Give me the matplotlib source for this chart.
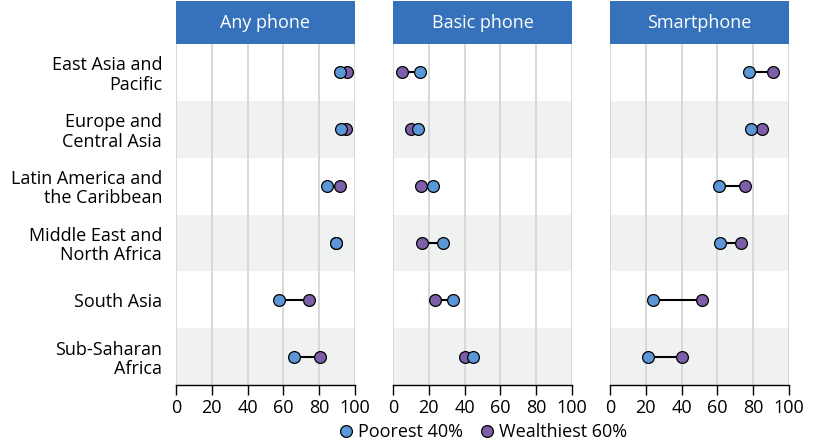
import matplotlib
matplotlib.use("Agg")
import matplotlib.pyplot as plt
from matplotlib.patches import Rectangle
from matplotlib.lines import Line2D

plt.rcParams['font.family'] = ['Open Sans', 'DejaVu Sans']

regions = ["East Asia and\nPacific", "Europe and\nCentral Asia",
           "Latin America and\nthe Caribbean", "Middle East and\nNorth Africa",
           "South Asia", "Sub-Saharan\nAfrica"]
panels = ["Any phone", "Basic phone", "Smartphone"]

poorest = {
    "Any phone": [91.8, 92.2, 84.3, 89.2, 57.5, 66.0],
    "Basic phone": [15.1, 14.0, 22.2, 28.0, 33.6, 44.6],
    "Smartphone": [77.5, 78.5, 60.9, 61.6, 24.2, 21.3],
}
wealthiest = {
    "Any phone": [95.5, 94.8, 91.4, 89.2, 74.4, 80.2],
    "Basic phone": [4.9, 9.9, 15.5, 16.4, 23.3, 40.1],
    "Smartphone": [91.2, 85.0, 75.5, 73.4, 51.5, 40.3],
}
ticks = [0, 20, 40, 60, 80, 100]

blue = "#5b96d6"
purple = "#7d5ea8"
header_blue = "#3672bb"
band = "#f0f2f1"

W, H = 826, 447
fig = plt.figure(figsize=(W / 100, H / 100), dpi=100)

lefts = [176, 393, 610]
pw = 179
top, bottom = 44, 385
head_top = 1

for i, name in enumerate(panels):
    ax = fig.add_axes([lefts[i] / W, (H - bottom) / H, pw / W, (bottom - top) / H])
    ax.set_xlim(0, 100)
    ax.set_ylim(len(regions) - 0.5, -0.5)
    for r in range(len(regions)):
        if r % 2 == 1:
            ax.axhspan(r - 0.5, r + 0.5, color=band, zorder=0, lw=0)
    for t in ticks:
        ax.axvline(t, color="#d6d6d6", lw=1.3, zorder=1)
    for r in range(len(regions)):
        p, w = poorest[name][r], wealthiest[name][r]
        ax.plot([p, w], [r, r], color="black", lw=1.5, zorder=2)
        ax.plot(w, r, "o", ms=8.5, mfc=purple, mec="black", mew=0.9, zorder=3)
        ax.plot(p, r, "o", ms=8.5, mfc=blue, mec="black", mew=0.9, zorder=4)
    for s in ["top", "right", "left"]:
        ax.spines[s].set_visible(False)
    ax.spines["bottom"].set_color("black")
    ax.spines["bottom"].set_linewidth(1.0)
    ax.set_xticks(ticks)
    ax.tick_params(axis="x", length=7, width=1, color="black", labelsize=13, pad=3)
    ax.set_yticks(range(len(regions)))
    if i == 0:
        ax.set_yticklabels(regions, fontsize=13, ha="right", linespacing=1.1)
        ax.tick_params(axis="y", length=0, pad=10)
    else:
        ax.set_yticklabels([])
        ax.tick_params(axis="y", length=0)
    hh = (bottom - head_top) / (bottom - top)
    ax.add_patch(Rectangle((0, 1), 1, hh - 1, transform=ax.transAxes,
                           facecolor=header_blue, edgecolor="none", clip_on=False))
    ax.text(0.5, 1 + (hh - 1) / 2, name, transform=ax.transAxes, ha="center",
            va="center", color="white", fontsize=13)

handles = [
    Line2D([], [], ls="none", marker="o", ms=8.5, mfc=blue, mec="black", mew=0.9),
    Line2D([], [], ls="none", marker="o", ms=8.5, mfc=purple, mec="black", mew=0.9),
]
fig.legend(handles, ["Poorest 40%", "Wealthiest 60%"], loc="center",
           bbox_to_anchor=(482 / W, 1 - 432 / H), ncol=2, frameon=False,
           fontsize=13, handletextpad=0.2, columnspacing=0.8, handlelength=1.0)

fig.savefig("out.png", dpi=100)
